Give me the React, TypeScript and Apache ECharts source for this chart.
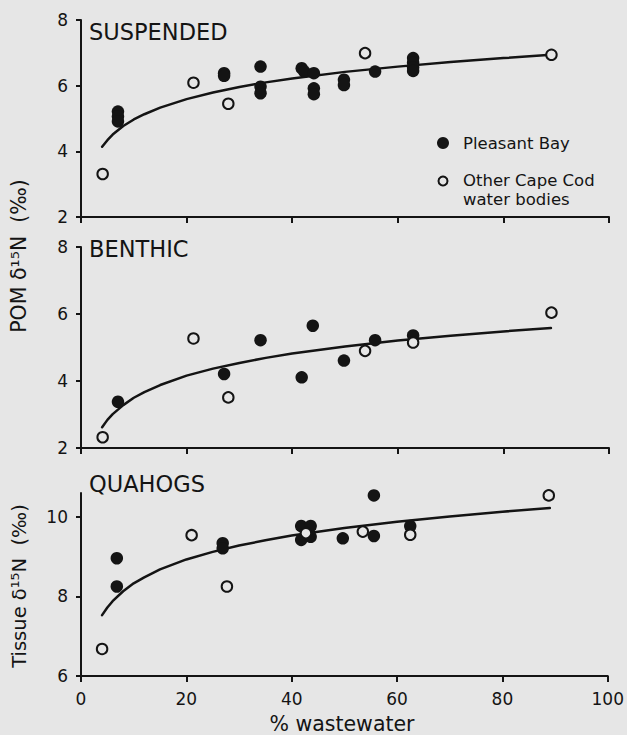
import React, { useEffect, useRef } from "react";
import * as echarts from "echarts";

const panelTitles = ["SUSPENDED", "BENTHIC", "QUAHOGS"];
const xTicks = [0, 20, 40, 60, 80, 100];
const yTicksPOM = [2, 4, 6, 8];
const yTicksTissue = [6, 8, 10];

const suspendedPleasantBay = [
  [7, 5.21], [7, 5.06], [7, 4.91], [27.1, 6.38], [27.1, 6.3], [34, 6.58], [34, 5.97], [34, 5.77],
  [41.8, 6.53], [42.3, 6.43], [44.1, 6.38], [44.1, 5.92], [44.1, 5.74], [49.8, 6.18], [49.8, 6.02],
  [55.7, 6.43], [62.9, 6.84], [62.9, 6.7], [62.9, 6.55], [62.9, 6.45],
];
const suspendedOther = [[4.1, 3.31], [21.3, 6.09], [27.9, 5.45], [53.8, 6.99], [89.1, 6.94]];
const suspendedFit = [
  [4, 4.14], [5, 4.34], [6, 4.51], [8, 4.77], [10, 4.97], [12, 5.13], [15, 5.33], [20, 5.59],
  [25, 5.79], [30, 5.96], [35, 6.1], [40, 6.22], [50, 6.42], [60, 6.58], [70, 6.72], [80, 6.84], [89, 6.94],
];

const benthicPleasantBay = [
  [7, 3.38], [27.1, 4.21], [34, 5.22], [41.8, 4.11], [43.9, 5.65], [49.8, 4.61], [55.7, 5.22], [62.9, 5.36],
];
const benthicOther = [[4.1, 2.32], [21.3, 5.27], [27.9, 3.51], [53.8, 4.9], [62.9, 5.15], [89.1, 6.04]];
const benthicFit = [
  [4, 2.62], [5, 2.84], [6, 3.01], [8, 3.28], [10, 3.5], [12, 3.67], [15, 3.88], [20, 4.16],
  [25, 4.37], [30, 4.54], [35, 4.69], [40, 4.82], [50, 5.03], [60, 5.21], [70, 5.35], [80, 5.48], [89, 5.58],
];

const quahogPleasantBay = [
  [6.8, 8.96], [6.8, 8.25], [26.9, 9.34], [26.9, 9.21], [41.8, 9.77], [43.6, 9.77], [41.8, 9.42],
  [43.6, 9.5], [49.7, 9.46], [55.6, 10.54], [55.6, 9.52], [62.5, 9.77],
];
const quahogOther = [[4, 6.68], [21, 9.54], [27.7, 8.25], [42.7, 9.59], [53.5, 9.63], [62.5, 9.55], [88.8, 10.54]];
const quahogFit = [
  [4, 7.53], [5, 7.72], [6, 7.88], [8, 8.13], [10, 8.33], [12, 8.48], [15, 8.68], [20, 8.93],
  [25, 9.12], [30, 9.28], [35, 9.41], [40, 9.53], [50, 9.72], [60, 9.88], [70, 10.01], [80, 10.13], [89, 10.22],
];

const legendNames = ["Pleasant Bay", "Other Cape Cod\nwater bodies"];

const BG = "#e6e6e6";
const INK = "#141414";
const FONT = "DejaVu Sans";

export default function App() {
  const ref = useRef<HTMLDivElement>(null);

  useEffect(() => {
    if (!ref.current) return;
    const chart = echarts.init(ref.current, undefined, { renderer: "svg" });

    const grids = [
      { left: 81, width: 528, top: 20, height: 197 },
      { left: 81, width: 528, top: 247, height: 201 },
      { left: 81, width: 528, top: 493, height: 183 },
    ];

    const axisLine = { show: true, onZero: false, lineStyle: { color: INK, width: 2 } };
    const tickStyle = { color: INK, width: 2 };

    const xAxes = grids.map((_, i) => ({
      type: "value",
      gridIndex: i,
      min: 0,
      max: 100,
      interval: 20,
      axisLine,
      axisTick: { show: true, length: 6, lineStyle: tickStyle, customValues: xTicks },
      axisLabel: {
        show: i === 2,
        customValues: xTicks,
        fontSize: 17,
        fontFamily: FONT,
        color: INK,
        margin: 14,
      },
      splitLine: { show: false },
    }));

    const yAxes = grids.map((_, i) => {
      const ticks = i === 2 ? yTicksTissue : yTicksPOM;
      return {
        type: "value",
        gridIndex: i,
        min: i === 2 ? 6 : 2,
        max: i === 2 ? 10.6 : 8,
        interval: 2,
        axisLine,
        axisTick: { show: true, length: 5, lineStyle: tickStyle, customValues: ticks },
        axisLabel: {
          customValues: ticks,
          fontSize: 17,
          fontFamily: FONT,
          color: INK,
          margin: 13,
        },
        splitLine: { show: false },
      };
    });

    const panelData = [
      [suspendedPleasantBay, suspendedOther, suspendedFit],
      [benthicPleasantBay, benthicOther, benthicFit],
      [quahogPleasantBay, quahogOther, quahogFit],
    ];

    const series: any[] = [];
    panelData.forEach(([pb, other, fit], i) => {
      series.push({
        type: "line",
        name: panelTitles[i] + " fit",
        xAxisIndex: i,
        yAxisIndex: i,
        data: fit,
        smooth: false,
        showSymbol: false,
        lineStyle: { color: INK, width: 2.5, join: "round", cap: "round" },
        z: 2,
      });
      series.push({
        type: "scatter",
        name: "Pleasant Bay",
        xAxisIndex: i,
        yAxisIndex: i,
        data: pb,
        symbol: "circle",
        symbolSize: 12.5,
        itemStyle: { color: INK, opacity: 1 },
        z: 3,
      });
      series.push({
        type: "scatter",
        name: "Other Cape Cod water bodies",
        xAxisIndex: i,
        yAxisIndex: i,
        data: other,
        symbol: "circle",
        symbolSize: 10.5,
        itemStyle: { color: BG, borderColor: INK, borderWidth: 2, opacity: 1 },
        z: 4,
      });
    });

    const titleY = [32, 249, 484];
    const graphic: any[] = panelTitles.map((t, i) => ({
      type: "text",
      x: 89,
      y: titleY[i],
      style: { text: t, fontSize: 22.5, fontFamily: FONT, fill: INK, textVerticalAlign: "middle" },
    }));

    graphic.push(
      {
        type: "circle",
        shape: { cx: 443, cy: 143, r: 6 },
        style: { fill: INK },
      },
      {
        type: "text",
        x: 463,
        y: 143,
        style: { text: legendNames[0], fontSize: 16.5, fontFamily: FONT, fill: INK, textVerticalAlign: "middle" },
      },
      {
        type: "circle",
        shape: { cx: 443, cy: 181, r: 4.5 },
        style: { fill: BG, stroke: INK, lineWidth: 2 },
      },
      {
        type: "text",
        x: 463,
        y: 171,
        style: {
          text: legendNames[1],
          fontSize: 16.5,
          lineHeight: 19,
          fontFamily: FONT,
          fill: INK,
          textVerticalAlign: "top",
        },
      },
      {
        type: "text",
        x: 19,
        y: 256,
        rotation: Math.PI / 2,
        style: {
          text: "POM δ¹⁵N  (‰)",
          fontSize: 20.5,
          fontFamily: FONT,
          fill: INK,
          textAlign: "center",
          textVerticalAlign: "middle",
        },
      },
      {
        type: "text",
        x: 19,
        y: 586,
        rotation: Math.PI / 2,
        style: {
          text: "Tissue δ¹⁵N  (‰)",
          fontSize: 19.5,
          fontFamily: FONT,
          fill: INK,
          textAlign: "center",
          textVerticalAlign: "middle",
        },
      },
      {
        type: "text",
        x: 342,
        y: 724,
        style: {
          text: "% wastewater",
          fontSize: 20.5,
          fontFamily: FONT,
          fill: INK,
          textAlign: "center",
          textVerticalAlign: "middle",
        },
      }
    );

    chart.setOption({
      animation: false,
      backgroundColor: BG,
      grid: grids,
      xAxis: xAxes,
      yAxis: yAxes,
      series,
      graphic,
    });

    return () => chart.dispose();
  }, []);

  return (
    <div
      ref={ref}
      style={{ position: "fixed", left: 0, top: 0, width: 627, height: 735, background: BG }}
    />
  );
}
